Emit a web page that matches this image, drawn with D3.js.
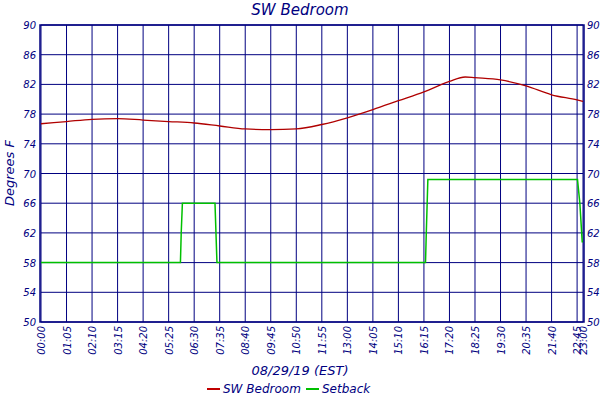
<!DOCTYPE html>
<html><head><meta charset="utf-8">
<script src="https://cdn.jsdelivr.net/npm/d3@7"></script>
<style>body{margin:0;background:#fff}text{font-family:"DejaVu Sans";font-style:italic;fill:#000080}</style>
</head><body><svg id="c" width="600" height="400"></svg>
<script>
// minutes since midnight
var tickMinutes = [0,65,130,195,260,325,390,455,520,585,650,715,780,845,910,975,1040,1105,1170,1235,1300,1365,1380];
var yTicks = [50,54,58,62,66,70,74,78,82,86,90];
var roomT = [0,65,130,195,260,325,390,455,520,585,650,715,780,845,910,975,1040,1080,1105,1170,1235,1300,1365,1380];
var roomV = [76.7,77.0,77.3,77.4,77.2,77.0,76.8,76.4,76.0,75.9,76.0,76.6,77.5,78.6,79.8,81.0,82.4,83.0,82.9,82.6,81.8,80.6,79.9,79.7];
var setT = [0,355,357,360,443,448,979,981,985,1366,1372,1378,1380];
var setV = [58,58,62,66,66,58,58,62,69.2,69.2,66,60.8,60.8];

var svg = d3.select("#c");
var x = d3.scaleLinear().domain([0,1380]).range([41,583]);
var y = d3.scaleLinear().domain([50,90]).range([322,25]);
var navy = "#000080";

function hm(m){ return d3.format("02")(Math.floor(m/60))+":"+d3.format("02")(m%60); }

svg.append("g").selectAll("line").data(tickMinutes).join("line")
    .attr("x1",d=>x(d)).attr("x2",d=>x(d)).attr("y1",y(90)).attr("y2",y(50))
    .attr("stroke",navy).attr("stroke-width",1);
svg.append("g").selectAll("line").data(yTicks).join("line")
    .attr("x1",x(0)).attr("x2",x(1380)).attr("y1",d=>y(d)).attr("y2",d=>y(d))
    .attr("stroke",navy).attr("stroke-width",1);
svg.append("rect").attr("x",x(0)-1).attr("y",y(90)).attr("width",x(1380)-x(0)+2).attr("height",y(50)-y(90))
    .attr("fill","none").attr("stroke",navy).attr("stroke-width",1.5);

svg.append("g").selectAll("text").data(yTicks).join("text")
    .attr("x",36).attr("y",d=>y(d)+4).attr("text-anchor","end").attr("font-size",10).text(d=>d);
svg.append("g").selectAll("text").data(yTicks).join("text")
    .attr("x",587).attr("y",d=>y(d)+4).attr("text-anchor","start").attr("font-size",10).text(d=>d);
svg.append("g").selectAll("text").data(tickMinutes).join("text")
    .attr("transform",d=>"translate("+(x(d)+4)+",326) rotate(-90)")
    .attr("text-anchor","end").attr("font-size",10).text(d=>hm(d));

svg.append("text").attr("x",300).attr("y",15).attr("text-anchor","middle").attr("font-size",15).text("SW Bedroom");
svg.append("text").attr("x",300).attr("y",375).attr("text-anchor","middle").attr("font-size",13).text("08/29/19 (EST)");
svg.append("text").attr("transform","translate(14,173) rotate(-90)").attr("text-anchor","middle").attr("font-size",13).text("Degrees F");

var line = d3.line().x(d=>x(d[0])).y(d=>y(d[1])).curve(d3.curveMonotoneX);
svg.append("path").attr("d",line(d3.zip(roomT,roomV))).attr("fill","none").attr("stroke","#b00000").attr("stroke-width",1.3);
var lineS = d3.line().x(d=>x(d[0])).y(d=>y(d[1]));
svg.append("path").attr("d",lineS(d3.zip(setT,setV))).attr("fill","none").attr("stroke","#00c000").attr("stroke-width",1.5);

var leg = [["SW Bedroom","#c00000",207],["Setback","#00c000",306]];
leg.forEach(function(l){
  svg.append("line").attr("x1",l[2]).attr("x2",l[2]+13).attr("y1",389).attr("y2",389).attr("stroke",l[1]).attr("stroke-width",2);
  svg.append("text").attr("x",l[2]+16).attr("y",393).attr("font-size",12).text(l[0]);
});
</script></body></html>
